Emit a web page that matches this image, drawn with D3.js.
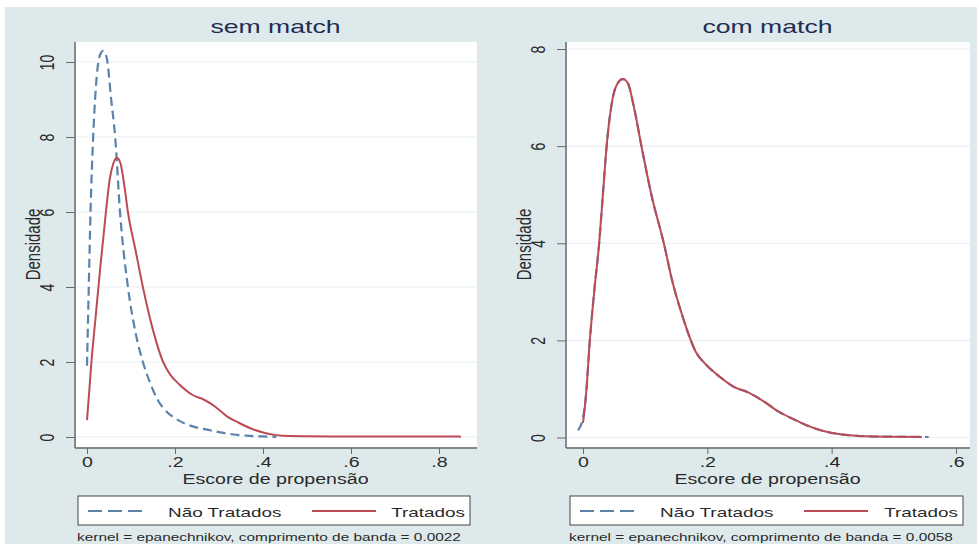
<!DOCTYPE html>
<html>
<head>
<meta charset="utf-8">
<script src="https://cdnjs.cloudflare.com/ajax/libs/d3/7.8.5/d3.min.js"></script>
<style>
  body { margin: 0; background: #fff; }
  text { font-family: "Liberation Sans", Arial, sans-serif; }
</style>
</head>
<body>
<script>
// --- data ---
var semNaoX  = [0.000, 0.004, 0.008, 0.014, 0.022, 0.030, 0.037, 0.045, 0.055, 0.064, 0.075, 0.093, 0.110, 0.127, 0.145, 0.160, 0.175, 0.200, 0.220, 0.250, 0.280, 0.310, 0.340, 0.370, 0.400, 0.430];
var semNaoY  = [1.9, 4.0, 6.0, 8.0, 9.6, 10.2, 10.3, 10.1, 9.0, 8.0, 6.0, 4.0, 2.8, 2.0, 1.4, 1.0, 0.75, 0.5, 0.37, 0.25, 0.18, 0.11, 0.06, 0.03, 0.015, 0.005];
var semTratX = [0.000, 0.005, 0.010, 0.018, 0.030, 0.043, 0.052, 0.060, 0.068, 0.076, 0.085, 0.093, 0.110, 0.127, 0.150, 0.173, 0.190, 0.210, 0.240, 0.265, 0.290, 0.318, 0.345, 0.370, 0.400, 0.430, 0.460, 0.500, 0.600, 0.700, 0.850];
var semTratY = [0.45, 1.2, 2.0, 3.0, 4.5, 6.0, 6.9, 7.3, 7.45, 7.3, 6.7, 6.0, 5.0, 4.0, 2.85, 2.0, 1.65, 1.4, 1.12, 1.0, 0.82, 0.55, 0.38, 0.24, 0.12, 0.05, 0.025, 0.02, 0.015, 0.012, 0.01];

var comNaoX  = [-0.008, 0.000, 0.005, 0.011, 0.018, 0.026, 0.032, 0.038, 0.048, 0.056, 0.064, 0.072, 0.082, 0.094, 0.110, 0.130, 0.144, 0.160, 0.182, 0.198, 0.220, 0.246, 0.262, 0.290, 0.315, 0.338, 0.358, 0.385, 0.411, 0.440, 0.470, 0.510, 0.556];
var comNaoY  = [0.15, 0.4, 0.9, 2.0, 3.0, 4.0, 5.0, 6.0, 7.0, 7.3, 7.38, 7.3, 6.8, 6.0, 5.0, 4.0, 3.2, 2.5, 1.75, 1.5, 1.25, 1.02, 0.95, 0.75, 0.53, 0.38, 0.26, 0.14, 0.07, 0.035, 0.02, 0.015, 0.01];
var comTratX = [0.000, 0.005, 0.011, 0.018, 0.026, 0.032, 0.038, 0.048, 0.056, 0.064, 0.072, 0.082, 0.094, 0.110, 0.130, 0.144, 0.160, 0.182, 0.198, 0.220, 0.246, 0.262, 0.290, 0.315, 0.338, 0.358, 0.385, 0.411, 0.440, 0.470, 0.510, 0.545];
var comTratY = [0.3, 0.9, 2.0, 3.0, 4.0, 5.0, 6.0, 7.0, 7.3, 7.38, 7.3, 6.8, 6.0, 5.0, 4.0, 3.2, 2.5, 1.75, 1.5, 1.25, 1.02, 0.95, 0.75, 0.53, 0.38, 0.26, 0.14, 0.07, 0.035, 0.02, 0.015, 0.012];

var semXTicks = [0, 0.2, 0.4, 0.6, 0.8];
var semYTicks = [0, 2, 4, 6, 8, 10];
var comXTicks = [0, 0.2, 0.4, 0.6];
var comYTicks = [0, 2, 4, 6, 8];

var titles = ['sem match', 'com match'];
var seriesNames = ['Não Tratados', 'Tratados'];
var bandwidths = ['0.0022', '0.0058'];

// --- look ---
var W = 979, H = 544;
var SX = 1.4;           // picture is stretched sideways
var bg = '#dde9eb';
var blue = '#5a82ab';
var red = '#bd4b55';
var navy = '#1f2d52';
var axisCol = '#6a6a6a';
var gridCol = '#e7eff1';

function zip(xs, ys) {
  return xs.map(function(x, i) { return { x: x, y: ys[i] }; });
}

var panels = [
  { title: titles[0], band: bandwidths[0], plot: [76, 477], top: 42, bottom: 447,
    xDom: [0, 0.8], xRange: [87, 439], yDom: [0, 10], yRange: [437, 62],
    xTicks: semXTicks, yTicks: semYTicks,
    nao: zip(semNaoX, semNaoY), trat: zip(semTratX, semTratY),
    leg: [78, 470] },
  { title: titles[1], band: bandwidths[1], plot: [567, 970], top: 42, bottom: 447,
    xDom: [0, 0.6], xRange: [583, 956], yDom: [0, 8], yRange: [437.5, 49],
    xTicks: comXTicks, yTicks: comYTicks,
    nao: zip(comNaoX, comNaoY), trat: zip(comTratX, comTratY),
    leg: [570, 963] }
];

var svg = d3.select('body').append('svg')
  .attr('width', W)
  .attr('height', H);

svg.append('rect').attr('width', W).attr('height', H).attr('fill', '#fff');
svg.append('rect')
  .attr('x', 5).attr('y', 7)
  .attr('width', 972).attr('height', H - 7)
  .attr('fill', bg);

// stretched text helper
function label(g, x, y, s, size, anchor, color, rot) {
  return g.append('text')
    .attr('transform', 'translate(' + x + ',' + y + ') scale(' + SX + ',1)' + (rot ? ' rotate(-90)' : ''))
    .attr('font-size', size)
    .attr('text-anchor', anchor)
    .attr('fill', color)
    .text(s);
}

var xFmt = function(d) { return d === 0 ? '0' : d3.format('.1f')(d).replace(/^0/, ''); };

panels.forEach(function(p) {
  var g = svg.append('g');
  var x = d3.scaleLinear().domain(p.xDom).range(p.xRange);
  var y = d3.scaleLinear().domain(p.yDom).range(p.yRange);
  var L = p.plot[0], R = p.plot[1];

  // plot region
  g.append('rect')
    .attr('x', L).attr('y', p.top)
    .attr('width', R - L).attr('height', p.bottom - p.top)
    .attr('fill', '#fff');

  // grid
  g.selectAll('.grid')
    .data(p.yTicks)
    .enter().append('line')
    .attr('x1', L).attr('x2', R)
    .attr('y1', function(d) { return y(d); })
    .attr('y2', function(d) { return y(d); })
    .attr('stroke', gridCol)
    .attr('stroke-width', 1.2);

  // y axis
  var ya = g.append('g')
    .attr('transform', 'translate(' + (L - 1) + ',0)')
    .call(d3.axisLeft(y).tickValues(p.yTicks).tickSize(9).tickSizeOuter(0).tickFormat(d3.format('d')));
  ya.select('.domain').remove();
  ya.selectAll('line').attr('stroke', axisCol);
  ya.selectAll('text')
    .attr('x', null).attr('dy', null)
    .attr('transform', 'translate(-21,0) scale(' + SX + ',1) rotate(-90)')
    .attr('text-anchor', 'middle')
    .attr('font-size', 14)
    .attr('font-family', '"Liberation Sans", Arial, sans-serif')
    .attr('fill', '#2a2a2a');

  // x axis
  var xa = g.append('g')
    .attr('transform', 'translate(0,' + (p.bottom + 1) + ')')
    .call(d3.axisBottom(x).tickValues(p.xTicks).tickSize(6).tickSizeOuter(0).tickFormat(xFmt));
  xa.select('.domain').remove();
  xa.selectAll('line').attr('stroke', axisCol);
  xa.selectAll('text')
    .attr('y', null).attr('dy', null)
    .attr('transform', 'translate(0,19) scale(' + SX + ',1)')
    .attr('font-size', 14)
    .attr('font-family', '"Liberation Sans", Arial, sans-serif')
    .attr('fill', '#2a2a2a');

  // axis lines
  g.append('line')
    .attr('x1', L - 1).attr('x2', L - 1)
    .attr('y1', p.top).attr('y2', p.bottom + 1)
    .attr('stroke', axisCol).attr('stroke-width', 1.5);
  g.append('line')
    .attr('x1', L - 1).attr('x2', R)
    .attr('y1', p.bottom + 1).attr('y2', p.bottom + 1)
    .attr('stroke', axisCol).attr('stroke-width', 1.5);

  // curves
  var line = d3.line()
    .x(function(d) { return x(d.x); })
    .y(function(d) { return y(d.y); })
    .curve(d3.curveMonotoneX);

  g.append('path')
    .datum(p.nao)
    .attr('d', line)
    .attr('fill', 'none')
    .attr('stroke', blue)
    .attr('stroke-width', 2.2)
    .attr('stroke-dasharray', '9,5');

  g.append('path')
    .datum(p.trat)
    .attr('d', line)
    .attr('fill', 'none')
    .attr('stroke', red)
    .attr('stroke-width', 2);

  // titles
  var cx = (L + R) / 2;
  label(g, cx - 1, 33, p.title, 19, 'middle', navy);
  label(g, cx - 1, 484, 'Escore de propensão', 14, 'middle', '#2a2a2a');
  label(g, L - 36, (p.top + p.bottom) / 2, 'Densidade', 15, 'middle', '#2a2a2a', true);

  // legend
  var lx0 = p.leg[0], lx1 = p.leg[1];
  g.append('rect')
    .attr('x', lx0).attr('y', 496)
    .attr('width', lx1 - lx0).attr('height', 29)
    .attr('fill', '#fff')
    .attr('stroke', '#444')
    .attr('stroke-width', 1);
  g.append('line')
    .attr('x1', lx0 + 10).attr('x2', lx0 + 70)
    .attr('y1', 511).attr('y2', 511)
    .attr('stroke', blue).attr('stroke-width', 2.2)
    .attr('stroke-dasharray', '14,6');
  label(g, lx0 + 90, 517, seriesNames[0], 13.5, 'start', '#2a2a2a');
  g.append('line')
    .attr('x1', lx0 + 234).attr('x2', lx0 + 298)
    .attr('y1', 511).attr('y2', 511)
    .attr('stroke', red).attr('stroke-width', 2);
  label(g, lx1 - 5, 517, seriesNames[1], 13.5, 'end', '#2a2a2a');

  // note
  label(g, lx0 - 1, 541, 'kernel = epanechnikov, comprimento de banda = ' + p.band, 11, 'start', '#2a2a2a');
});
</script>
</body>
</html>
